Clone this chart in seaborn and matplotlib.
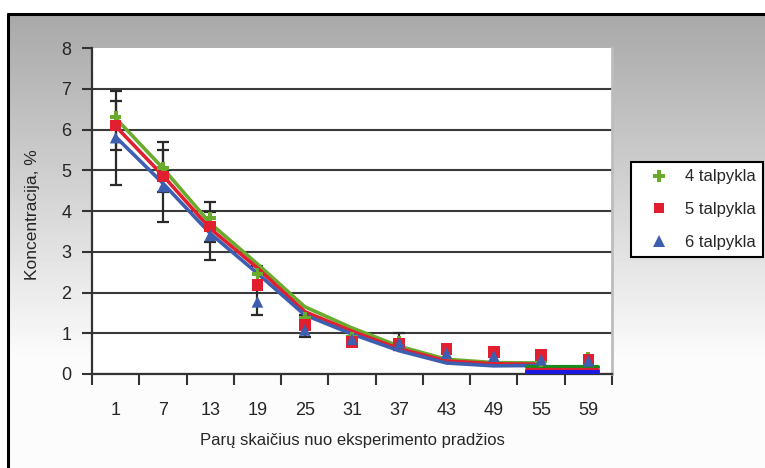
import numpy as np
import pandas as pd
import matplotlib
matplotlib.use("Agg")
import matplotlib.pyplot as plt
import seaborn as sns
from matplotlib.lines import Line2D

# ---------------- data ----------------
categories = ["1", "7", "13", "19", "25", "31", "37", "43", "49", "55", "59"]
series_names = ["4 talpykla", "5 talpykla", "6 talpykla"]

green_vals = [6.30, 5.05, 3.83, 2.45, 1.37, 0.90, 0.80, 0.55, 0.45, 0.32, 0.40]
red_vals = [6.10, 4.85, 3.62, 2.18, 1.20, 0.79, 0.75, 0.62, 0.54, 0.46, 0.34]
blue_vals = [5.80, 4.60, 3.40, 1.77, 1.08, 0.85, 0.76, 0.51, 0.44, 0.35, 0.32]

# trend lines read at category centres (1 ... 55)
green_trend = [6.28, 5.05, 3.70, 2.70, 1.65, 1.13, 0.68, 0.36, 0.28, 0.27]
red_trend = [6.08, 4.87, 3.57, 2.60, 1.53, 1.05, 0.62, 0.32, 0.25, 0.24]
blue_trend = [5.82, 4.68, 3.45, 2.47, 1.45, 0.98, 0.57, 0.27, 0.20, 0.21]

# flat tail segments at the bottom right
tail_pos = [8.7, 10.2]
tail_green = [0.17, 0.17]
tail_red = [0.11, 0.11]
tail_blue = [0.05, 0.05]

# error bars (category index, low, high)
err_pos = [0, 0, 1, 1, 2, 2, 3, 4, 6]
err_low = [4.65, 5.50, 3.74, 4.47, 2.80, 3.25, 1.45, 0.92, 0.60]
err_high = [6.95, 6.70, 5.70, 5.50, 4.23, 3.98, 2.66, 1.45, 1.00]

colors = {"4 talpykla": "#6aaa2c", "5 talpykla": "#e21f2f", "6 talpykla": "#3e5eb0"}
markers = {"4 talpykla": "P", "5 talpykla": "s", "6 talpykla": "^"}

# ---------------- tables ----------------
pos = list(range(len(categories)))
df_pts = pd.DataFrame({
    "pos": pos * 3,
    "value": green_vals + red_vals + blue_vals,
    "series": [series_names[0]] * 11 + [series_names[1]] * 11 + [series_names[2]] * 11,
})
tpos = list(range(len(green_trend)))
df_trend = pd.DataFrame({
    "pos": tpos * 3,
    "value": green_trend + red_trend + blue_trend,
    "series": [series_names[0]] * len(tpos) + [series_names[1]] * len(tpos) + [series_names[2]] * len(tpos),
})
df_tail = pd.DataFrame({
    "pos": tail_pos * 3,
    "value": tail_green + tail_red + tail_blue,
    "series": [series_names[0]] * 2 + [series_names[1]] * 2 + [series_names[2]] * 2,
})

# ---------------- figure ----------------
sns.set_style("white")
plt.rcParams["font.family"] = ["Liberation Sans", "DejaVu Sans"]

W, H = 765, 468
fig = plt.figure(figsize=(W / 100, H / 100), dpi=100)

# background gradient
bg = fig.add_axes([0, 0, 1, 1], zorder=-10)
rows = np.arange(H)
g = np.clip(168 + (rows - 14) * (252 - 168) / (360 - 14), 168, 252)
g[:14] = 255
img = np.repeat(g[:, None], W, axis=1) / 255.0
img[:, :8] = 1.0
bg.imshow(img, cmap="gray", vmin=0, vmax=1, extent=[0, W, H, 0], aspect="auto")
bg.plot([8.5, 8.5], [14, H], color="black", lw=2.2)
bg.plot([8.5, W], [14, 14], color="black", lw=2.2)
bg.set_xlim(0, W)
bg.set_ylim(H, 0)
bg.axis("off")

ax = fig.add_axes([92 / W, (H - 374) / H, 520 / W, 326 / H])
ax.set_facecolor("white")

ax.errorbar(x=err_pos,
            y=[(l + h) / 2 for l, h in zip(err_low, err_high)],
            yerr=[(h - l) / 2 for l, h in zip(err_low, err_high)],
            fmt="none", ecolor="#2a2a2a", elinewidth=1.6, capsize=4.5, capthick=1.6, zorder=2)

sns.lineplot(data=df_trend, x="pos", y="value", hue="series", palette=colors,
             lw=2.6, legend=False, ax=ax, zorder=3, sort=False)
sns.lineplot(data=df_tail, x="pos", y="value", hue="series", palette={
    "4 talpykla": "#1a8a1a", "5 talpykla": "#e21f2f", "6 talpykla": "#1a1ae0"},
             lw=3.0, legend=False, ax=ax, zorder=3, sort=False)
sns.scatterplot(data=df_pts, x="pos", y="value", hue="series", style="series",
                palette=colors, markers=markers, s=70, linewidth=0,
                legend=False, ax=ax, zorder=4)

ax.set_xlim(-0.5, len(categories) - 0.5)
ax.set_ylim(0, 8)

# y axis
ax.set_yticks(range(9))
ax.set_yticklabels([str(i) for i in range(9)], fontsize=13)
ax.tick_params(axis="y", direction="out", length=7, width=1.5, color="#333333",
               pad=8, left=True)
ax.grid(axis="y", color="#3a3a3a", lw=1.5)
ax.grid(axis="x", visible=False)
for t in ax.yaxis.get_major_ticks():
    if t.get_loc() == 8:
        t.gridline.set_visible(False)

# x axis: ticks at category boundaries, labels at centres
ax.set_xticks(np.arange(-0.5, len(categories), 1.0))
ax.set_xticklabels([])
ax.set_xticks(pos, minor=True)
ax.set_xticklabels(categories, minor=True, fontsize=13)
ax.tick_params(axis="x", which="major", direction="out", length=8, width=1.5,
               color="#333333", bottom=True)
ax.tick_params(axis="x", which="minor", length=0, pad=20)

for s in ["left", "bottom"]:
    ax.spines[s].set_color("#333333")
    ax.spines[s].set_linewidth(1.6)
ax.spines["top"].set_visible(False)
ax.spines["right"].set_color("#bdbdbd")
ax.spines["right"].set_linewidth(2)

ax.set_xlabel("Parų skaičius nuo eksperimento pradžios", fontsize=12, va="center")
ax.xaxis.set_label_coords(0.5, -(440 - 374) / 326)
ax.set_ylabel("Koncentracija, %", fontsize=12.5, va="center")
ax.yaxis.set_label_coords(-(92 - 33) / 520, 0.49)

handles = [Line2D([], [], linestyle="none", marker=markers[n], color=colors[n],
                  markersize=8 if n != "5 talpykla" else 7, markeredgewidth=0)
           for n in series_names]
leg = fig.legend(handles, series_names, loc="upper left",
                 bbox_to_anchor=(631 / W, 1 - 162 / H), fontsize=12,
                 frameon=True, fancybox=False, borderpad=0.45, borderaxespad=0,
                 handlelength=2.5, handletextpad=0.3, labelspacing=1.05)
leg.get_frame().set_edgecolor("black")
leg.get_frame().set_linewidth(1.5)
leg.get_frame().set_facecolor("white")
leg.get_frame().set_alpha(1)

fig.savefig("out.png", dpi=100)
